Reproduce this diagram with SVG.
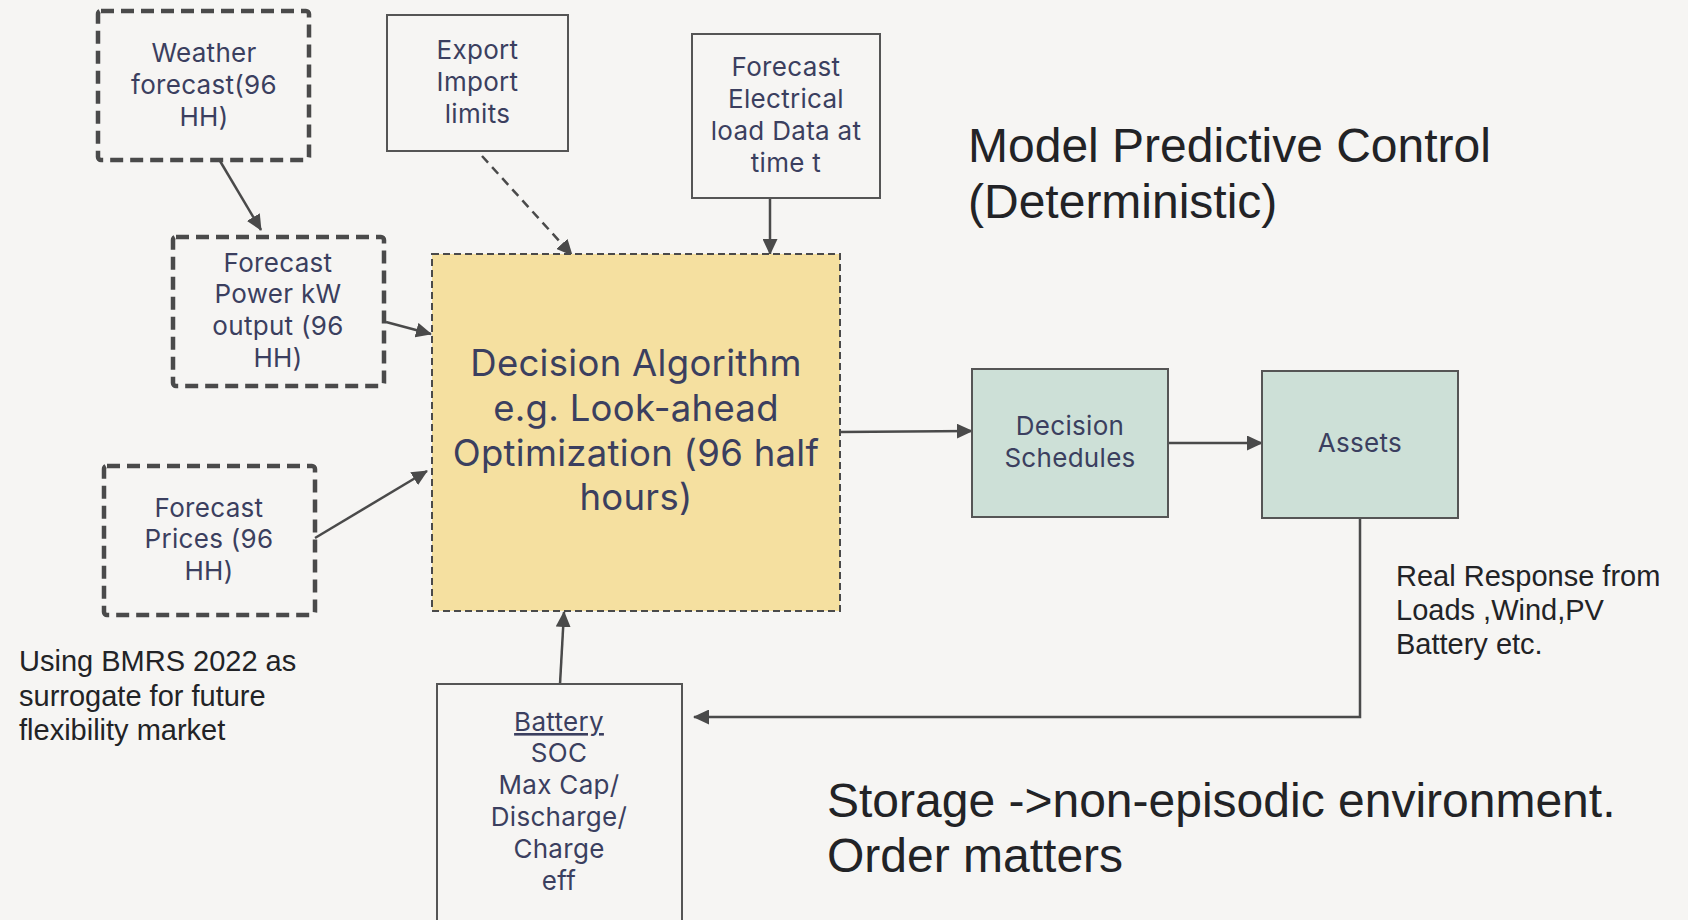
<svg xmlns="http://www.w3.org/2000/svg" width="1688" height="920" viewBox="0 0 1688 920">
<defs>
<marker id="ah" markerUnits="userSpaceOnUse" markerWidth="16" markerHeight="15" refX="15" refY="7.5" orient="auto">
<path d="M0,0 L16,7.5 L0,15 z" fill="#4a4a4a"/>
</marker>
<style>
.bg{fill:#f6f5f3}
.thick{fill:none;stroke:#4a4a4a;stroke-width:4.5;stroke-dasharray:13 7}
.plain{fill:none;stroke:#555;stroke-width:2}
.green{fill:#cde0d7;stroke:#555;stroke-width:2}
.yellow{fill:#f5e0a0;stroke:#4a4a4a;stroke-width:2;stroke-dasharray:7 4}
.nt{font-family:Inter,"DejaVu Sans",sans-serif;font-size:26px;letter-spacing:0.3px;fill:#3b3f5f;text-anchor:middle}
.big{font-family:Inter,"DejaVu Sans",sans-serif;font-size:36.5px;letter-spacing:0.3px;fill:#3b3f5f;text-anchor:middle}
.lbl{font-family:"Liberation Sans",Arial,sans-serif;fill:#222326}
.conn{fill:none;stroke:#4a4a4a;stroke-width:2.5}
</style>
</defs>
<rect class="bg" x="0" y="0" width="1688" height="920"/>

<g id="connectors">
<line class="conn" x1="220" y1="161" x2="261" y2="230" marker-end="url(#ah)"/>
<line class="conn" x1="482" y1="156" x2="572" y2="255" stroke-dasharray="9 6" marker-end="url(#ah)"/>
<line class="conn" x1="770" y1="198" x2="770" y2="254" marker-end="url(#ah)"/>
<line class="conn" x1="386" y1="322" x2="431" y2="334" marker-end="url(#ah)"/>
<line class="conn" x1="315" y1="538" x2="427" y2="471" marker-end="url(#ah)"/>
<line class="conn" x1="560" y1="684" x2="564" y2="612" marker-end="url(#ah)"/>
<line class="conn" x1="840" y1="432" x2="972" y2="431" marker-end="url(#ah)"/>
<line class="conn" x1="1168" y1="443" x2="1262" y2="443" marker-end="url(#ah)"/>
<path class="conn" d="M1360,518 V717 H694" marker-end="url(#ah)"/>
</g>

<g id="weather">
<rect class="thick" x="98" y="11" width="211" height="149" rx="3"/>
<text class="nt" x="204" y="62">Weather</text>
<text class="nt" x="204" y="94">forecast(96</text>
<text class="nt" x="204" y="126">HH)</text>
</g>

<g id="export">
<rect class="plain" x="387" y="15" width="181" height="136"/>
<text class="nt" x="477.5" y="59">Export</text>
<text class="nt" x="477.5" y="91">Import</text>
<text class="nt" x="477.5" y="123">limits</text>
</g>

<g id="electrical">
<rect class="plain" x="692" y="34" width="188" height="164"/>
<text class="nt" x="786" y="76">Forecast</text>
<text class="nt" x="786" y="108">Electrical</text>
<text class="nt" x="786" y="140">load Data at</text>
<text class="nt" x="786" y="172">time t</text>
</g>

<g id="forecast-power">
<rect class="thick" x="173" y="237" width="211" height="149" rx="3"/>
<text class="nt" x="278" y="272">Forecast</text>
<text class="nt" x="278" y="303">Power kW</text>
<text class="nt" x="278" y="335">output (96</text>
<text class="nt" x="278" y="367">HH)</text>
</g>

<g id="forecast-prices">
<rect class="thick" x="104" y="466" width="211" height="149" rx="3"/>
<text class="nt" x="209" y="517">Forecast</text>
<text class="nt" x="209" y="548">Prices (96</text>
<text class="nt" x="209" y="580">HH)</text>
</g>

<g id="decision">
<rect class="yellow" x="432" y="254" width="408" height="357"/>
<text class="big" x="636" y="376">Decision Algorithm</text>
<text class="big" x="636" y="421">e.g. Look-ahead</text>
<text class="big" x="636" y="466">Optimization (96 half</text>
<text class="big" x="636" y="510">hours)</text>
</g>

<g id="decision-schedules">
<rect class="green" x="972" y="369" width="196" height="148"/>
<text class="nt" x="1070" y="435">Decision</text>
<text class="nt" x="1070" y="467">Schedules</text>
</g>

<g id="assets">
<rect class="green" x="1262" y="371" width="196" height="147"/>
<text class="nt" x="1360" y="452">Assets</text>
</g>

<g id="battery">
<rect class="plain" x="437" y="684" width="245" height="250"/>
<text class="nt" x="559" y="731" text-decoration="underline">Battery</text>
<text class="nt" x="559" y="762">SOC</text>
<text class="nt" x="559" y="794">Max Cap/</text>
<text class="nt" x="559" y="826">Discharge/</text>
<text class="nt" x="559" y="858">Charge</text>
<text class="nt" x="559" y="890">eff</text>
</g>

<g id="labels">
<text class="lbl" x="968" y="162" font-size="48">Model Predictive Control</text>
<text class="lbl" x="968" y="218" font-size="48">(Deterministic)</text>
<text class="lbl" x="827" y="817" font-size="48">Storage -&gt;non-episodic environment.</text>
<text class="lbl" x="827" y="872" font-size="48">Order matters</text>
<text class="lbl" x="19" y="671" font-size="29">Using BMRS 2022 as</text>
<text class="lbl" x="19" y="706" font-size="29">surrogate for future</text>
<text class="lbl" x="19" y="740" font-size="29">flexibility market</text>
<text class="lbl" x="1396" y="586" font-size="29">Real Response from</text>
<text class="lbl" x="1396" y="620" font-size="29">Loads ,Wind,PV</text>
<text class="lbl" x="1396" y="654" font-size="29">Battery etc.</text>
</g>
</svg>
